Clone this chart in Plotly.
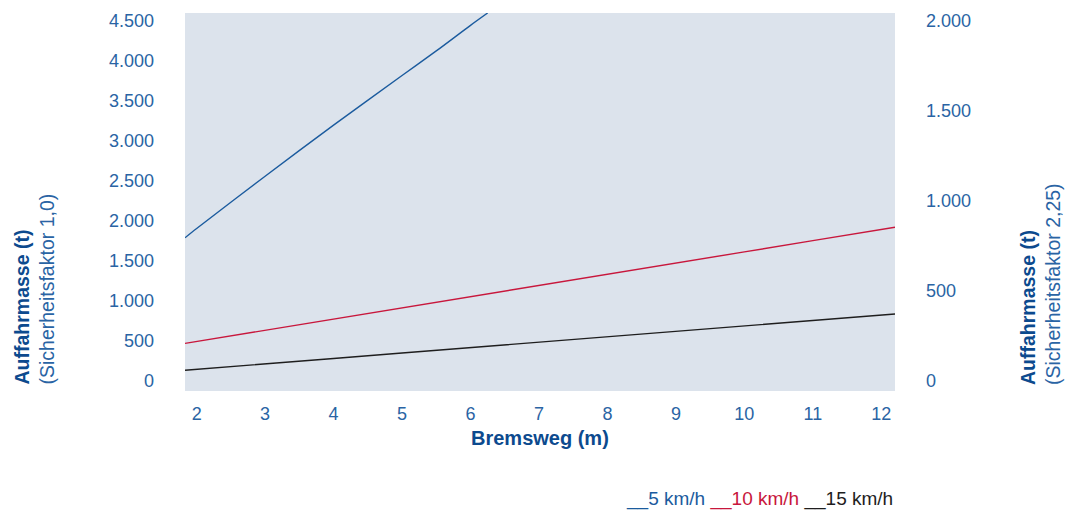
import plotly.graph_objects as go

# Data
bremsweg = [1.83, 2, 3, 4, 5, 5.5, 6, 6.25]
masse_5kmh = [1790, 1906, 2560, 3198, 3819, 4126, 4446, 4600]

bremsweg_lin = [1.83, 2, 3, 4, 5, 6, 7, 8, 9, 10, 11, 12, 12.2]
masse_10kmh = [470, 494, 634, 774, 914, 1054, 1194, 1334, 1474, 1614, 1754, 1894, 1922]
masse_15kmh = [135, 146, 214, 282, 350, 418, 486, 554, 622, 690, 758, 826, 838]

x_ticks = [2, 3, 4, 5, 6, 7, 8, 9, 10, 11, 12]
y_left_ticks = [0, 500, 1000, 1500, 2000, 2500, 3000, 3500, 4000, 4500]
y_left_labels = ["0", "500", "1.000", "1.500", "2.000", "2.500", "3.000", "3.500", "4.000", "4.500"]
y_right_ticks = [0, 500, 1000, 1500, 2000]
y_right_labels = ["0", "500", "1.000", "1.500", "2.000"]

BLUE = "#1b5b9e"
RED = "#c8173c"
BLACK = "#1e1e1e"
TICK = "#2a64a4"
TITLE = "#0c4a8e"
FONT = "Liberation Sans"

fig = go.Figure()
fig.add_trace(go.Scatter(x=bremsweg, y=masse_5kmh, mode="lines",
                         line=dict(color=BLUE, width=1.4, shape="spline", smoothing=0.8),
                         name="5 km/h", showlegend=False))
fig.add_trace(go.Scatter(x=bremsweg_lin, y=masse_10kmh, mode="lines", line=dict(color=RED, width=1.4),
                         name="10 km/h", showlegend=False))
fig.add_trace(go.Scatter(x=bremsweg_lin, y=masse_15kmh, mode="lines", line=dict(color=BLACK, width=1.4),
                         name="15 km/h", showlegend=False))
# invisible trace for right axis
fig.add_trace(go.Scatter(x=[None], y=[None], yaxis="y2", showlegend=False, hoverinfo="skip"))

y_lo, y_hi = -125, 4600
fig.update_layout(
    width=1072, height=513,
    margin=dict(l=185, r=177, t=13, b=122),
    paper_bgcolor="white",
    plot_bgcolor="#dce3ec",
    font=dict(family=FONT, color=TICK, size=18),
    xaxis=dict(range=[1.83, 12.2], tickvals=x_ticks, showgrid=False, zeroline=False,
               showline=False, ticks="", ticklabelstandoff=10,
               tickfont=dict(size=18, color=TICK)),
    yaxis=dict(range=[y_lo, y_hi], tickvals=y_left_ticks, ticktext=y_left_labels,
               showgrid=False, zeroline=False, showline=False, ticks="",
               ticklabelstandoff=30, tickfont=dict(size=18, color=TICK)),
    yaxis2=dict(range=[y_lo / 2.25, y_hi / 2.25], tickvals=y_right_ticks, ticktext=y_right_labels,
                overlaying="y", side="right", showgrid=False, zeroline=False, showline=False,
                ticks="", ticklabelstandoff=30, tickfont=dict(size=18, color=TICK)),
)

annotations = [
    dict(text="<b>Bremsweg (m)</b>", x=0.5, y=(391 - 438) / 378, xref="paper", yref="paper",
         xanchor="center", yanchor="middle", showarrow=False, font=dict(size=20, color=TITLE, family=FONT)),
    dict(text="<b>Auffahrmasse (t)</b><br><span style='color:%s'>(Sicherheitsfaktor 1,0)</span>" % TICK,
         x=(34 - 185) / 710, y=(391 - 387) / 378, xref="paper", yref="paper", textangle=-90,
         xanchor="center", yanchor="bottom", align="left", showarrow=False,
         font=dict(size=19.5, color=TITLE, family=FONT)),
    dict(text="<b>Auffahrmasse (t)</b><br><span style='color:%s'>(Sicherheitsfaktor 2,25)</span>" % TICK,
         x=(1040 - 185) / 710, y=(391 - 387) / 378, xref="paper", yref="paper", textangle=-90,
         xanchor="center", yanchor="bottom", align="left", showarrow=False,
         font=dict(size=19.5, color=TITLE, family=FONT)),
    dict(text="<span style='color:%s'>__5 km/h</span> <span style='color:%s'>__10 km/h</span> "
              "<span style='color:%s'>__15 km/h</span>" % (BLUE, RED, BLACK),
         x=1.0, y=(391 - 499) / 378, xref="paper", yref="paper", xanchor="right", yanchor="middle",
         showarrow=False, font=dict(size=19, family=FONT)),
]
fig.update_layout(annotations=annotations)

fig.write_html("out.html", config={"displayModeBar": False},
               post_script="document.body.style.margin='0';document.body.style.padding='0';")
